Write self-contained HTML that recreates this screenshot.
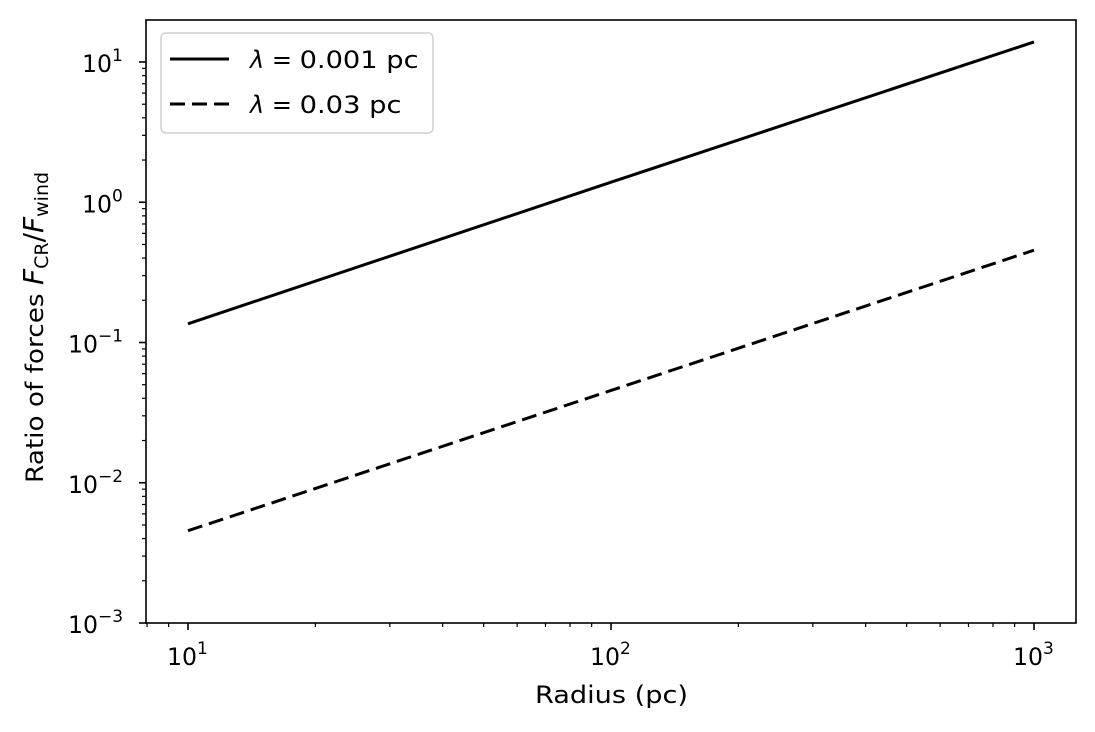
<!DOCTYPE html>
<html><head><meta charset="utf-8">
<style>
html,body{margin:0;padding:0;background:#fff;}
svg{display:block;font-family:"DejaVu Sans","Liberation Sans",sans-serif;}
</style></head>
<body>
<svg id="chart" width="1095" height="732" viewBox="0 0 1095 732"></svg>
<script>
const radii = [10, 100, 1000];
const solidValues = [0.136, 1.39, 13.9];
const dashedValues = [0.00455, 0.0455, 0.455];
const xTickExps = [1, 2, 3];
const yTickExps = [-3, -2, -1, 0, 1];
const legendLabels = ["0.001 pc", "0.03 pc"];

const L = 146, R = 1076, T = 20, B = 623;
const xMinLog = 1 - 42/423, xMaxLog = 3 + 42/423;
const yMinLog = -3, yMaxLog = 1 + 42/140.25;
function xs(v){ return L + (Math.log10(v) - xMinLog) / (xMaxLog - xMinLog) * (R - L); }
function ys(v){ return B - (Math.log10(v) - yMinLog) / (yMaxLog - yMinLog) * (B - T); }

const svg = document.getElementById('chart');
const NS = 'http://www.w3.org/2000/svg';
function mk(tag, attrs, parent){
  const e = document.createElementNS(NS, tag);
  for (const k in attrs) e.setAttribute(k, attrs[k]);
  (parent || svg).appendChild(e);
  return e;
}

function drawLine(vals, dash, name){
  const pts = radii.map((r,i)=> xs(r).toFixed(2)+','+ys(vals[i]).toFixed(2)).join(' ');
  const p = mk('polyline', {points: pts, fill:'none', stroke:'#000', 'stroke-width':3});
  if (dash) p.setAttribute('stroke-dasharray', dash);
  
  
}
drawLine(solidValues, null, 'line-lambda-0.001');
drawLine(dashedValues, '15 7', 'line-lambda-0.03');

const frame = mk('rect', {x:L, y:T, width:R-L, height:B-T, fill:'none', stroke:'#000', 'stroke-width':1.6});



for (let e = 0; e <= 3; e++){
  for (let m = 1; m <= 9; m++){
    const v = m * Math.pow(10, e);
    const lv = Math.log10(v);
    if (lv < xMinLog || lv > xMaxLog) continue;
    const x = xs(v);
    const major = m === 1;
    mk('line', {x1:x, x2:x, y1:B, y2:B + (major ? 7 : 4), stroke:'#000', 'stroke-width': major ? 1.6 : 1.2});
  }
}
xTickExps.forEach(e=>{
  const x = xs(Math.pow(10,e));
  const g = mk('text', {x: x - 21, y: 665, 'font-size':24});
  g.innerHTML = '<tspan textLength="30" lengthAdjust="spacingAndGlyphs">10</tspan><tspan dy="-11" font-size="17">' + e + '</tspan>';
  
  
});

for (let e = -3; e <= 1; e++){
  for (let m = 1; m <= 9; m++){
    const v = m * Math.pow(10, e);
    const lv = Math.log10(v);
    if (lv < yMinLog - 1e-9 || lv > yMaxLog) continue;
    const y = ys(v);
    const major = m === 1;
    mk('line', {x1:L - (major ? 7 : 4), x2:L, y1:y, y2:y, stroke:'#000', 'stroke-width': major ? 1.6 : 1.2});
  }
}
yTickExps.forEach(e=>{
  const neg = e < 0;
  const supW = neg ? 26 : 12;
  const t = mk('text', {x: 125 - supW - 31, y: ys(Math.pow(10,e)) + 10, 'font-size':24});
  t.innerHTML = '<tspan textLength="30" lengthAdjust="spacingAndGlyphs">10</tspan><tspan dy="-11" font-size="17">' + (neg ? '\u2212' + (-e) : e) + '</tspan>';
  
  
});

const xt = mk('text', {x: 535, y: 703, 'font-size':24, textLength:153, lengthAdjust:'spacingAndGlyphs'});
xt.textContent = 'Radius (pc)';



const yt = mk('text', {x: 0, y: 0, 'font-size':24, transform:'translate(43,483) rotate(-90)'});
yt.innerHTML = '<tspan textLength="198" lengthAdjust="spacingAndGlyphs">Ratio of forces </tspan><tspan font-style="italic" font-size="28">F</tspan><tspan font-size="19" dy="5">CR</tspan><tspan dy="-5" font-size="28">/</tspan><tspan font-style="italic" font-size="28">F</tspan><tspan font-size="19" dy="5">wind</tspan>';



const lg = mk('g', {});


mk('rect', {x:161, y:33, width:272, height:100, rx:5, fill:'#fff', stroke:'#d0d0d0', 'stroke-width':1.5}, lg);
legendLabels.forEach((lab, i)=>{
  const y = 59 + i*45;
  const ln = mk('line', {x1:170, x2:229, y1:y, y2:y, stroke:'#000', 'stroke-width':3}, lg);
  if (i === 1) ln.setAttribute('stroke-dasharray', '15 7');
  
  
  const t = mk('text', {x:250, y:y + 9, 'font-size':24}, lg);
  t.innerHTML = '<tspan font-style="italic">λ</tspan><tspan> = </tspan><tspan textLength="' + (i === 0 ? 119 : 102) + '" lengthAdjust="spacingAndGlyphs">' + lab + '</tspan>';
  
  
});
</script>
</body></html>
